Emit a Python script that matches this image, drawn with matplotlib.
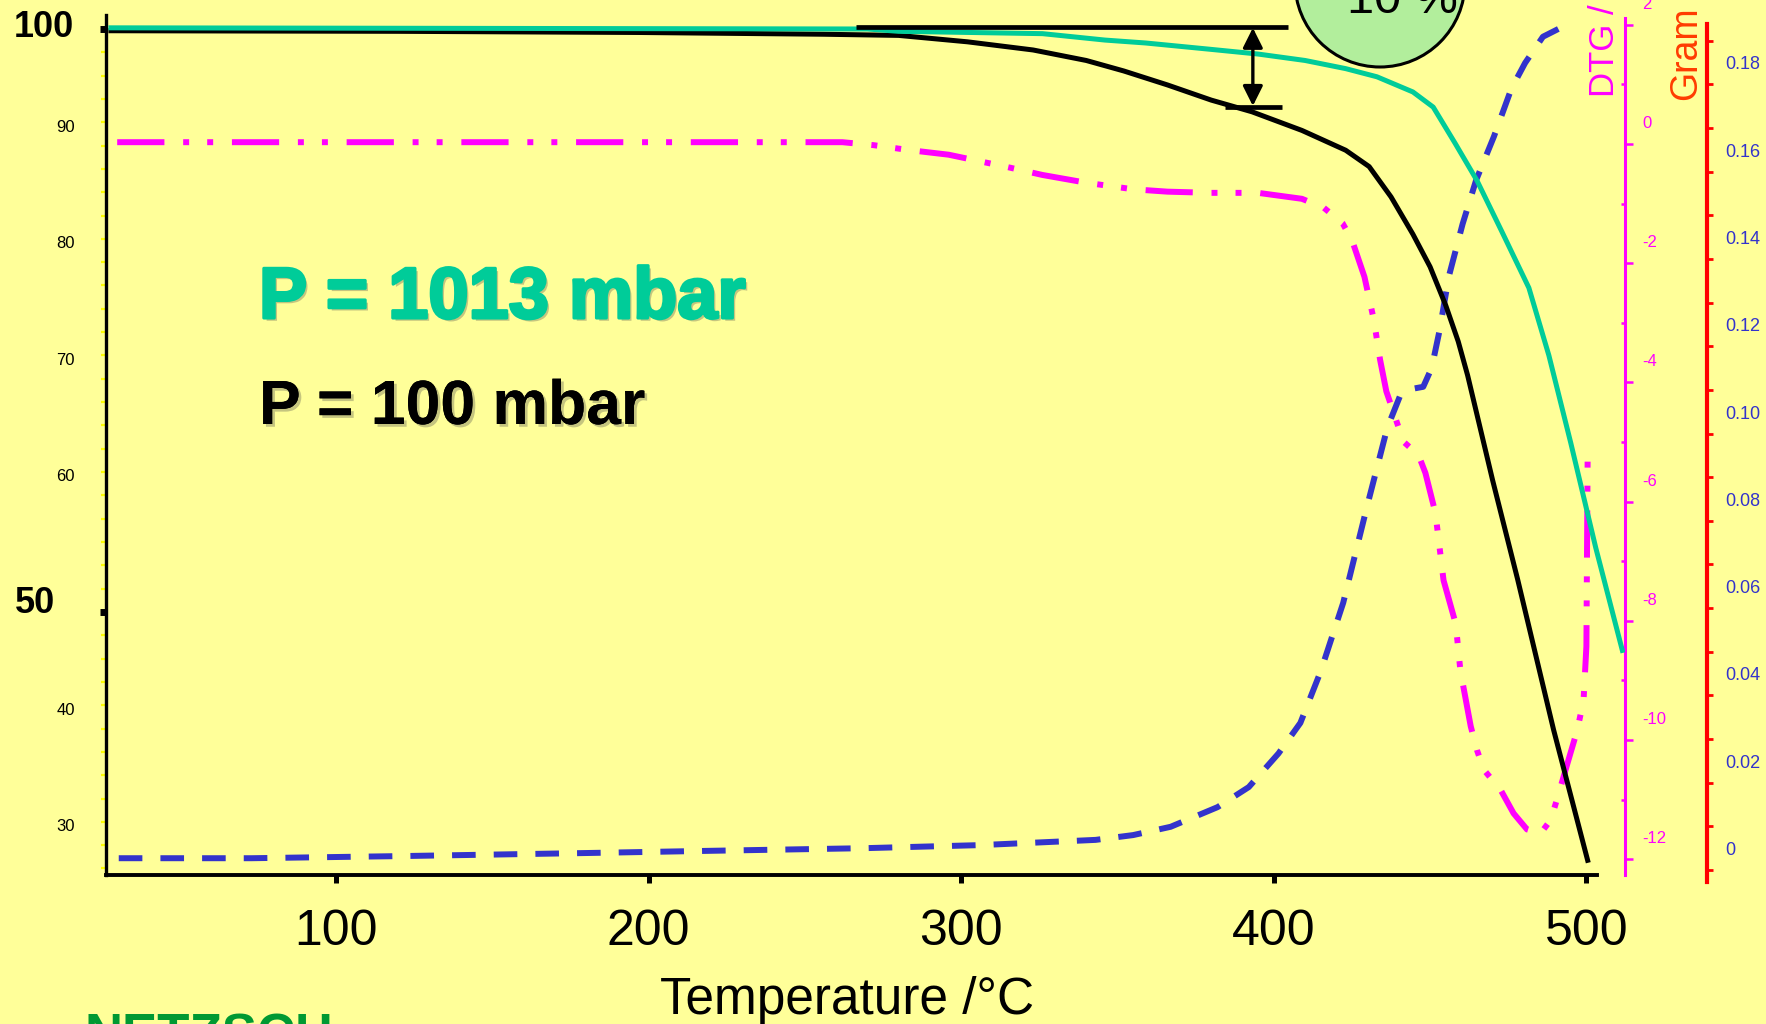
import numpy as np
import matplotlib
matplotlib.use("Agg")
import matplotlib.pyplot as plt
import matplotlib.patheffects as pe
from matplotlib.patches import Ellipse
from matplotlib.ticker import FixedLocator, NullFormatter

plt.rcParams['font.family'] = ['Liberation Sans', 'DejaVu Sans']
plt.rcParams['lines.scale_dashes'] = False

BG = '#ffff99'
TEAL = '#00cc99'
MAGENTA = '#ff00ff'
BLUE = '#3333cc'
RED = '#ff0000'

### Curves

# TG, 1013 mbar (%)
t_1013 = [28, 270, 280, 326, 346, 359, 380, 395, 410, 423, 433, 444.5, 451, 458,
          465, 473, 481.6, 488, 495, 503, 511.5]
tg_1013 = [100.1, 100.0, 99.8, 99.6, 99.05, 98.8, 98.25, 97.85, 97.3, 96.6, 95.9,
           94.6, 93.3, 90.2, 87.0, 82.6, 77.8, 72.0, 64.5, 55.5, 46.7]

# TG, 100 mbar (%)
t_100 = [28, 120, 197, 256, 280, 302, 323, 340, 352, 366, 380, 393, 409, 423,
         430.5, 437.5, 444.5, 450, 455, 459, 462, 470, 478, 489.5, 500.4]
tg_100 = [99.85, 99.8, 99.7, 99.55, 99.45, 98.9, 98.2, 97.3, 96.4, 95.2, 93.9,
          92.9, 91.3, 89.6, 88.2, 85.6, 82.4, 79.6, 76.3, 73.2, 70.3, 61.3, 52.8,
          39.9, 28.7]

# DTG, 100 mbar (%/min)
t_dtg = [30, 262, 272, 283, 296, 315, 326, 340, 355, 366, 380, 395, 409, 416, 422,
         425, 429, 432, 434, 436, 439.5, 441.6, 446.3, 448.5, 451.7, 454.3, 458.2,
         459.7, 463, 465, 467.2, 472.6, 476.7, 481, 485.3, 488.6, 490.8, 493.9,
         497.1, 499.1, 500.0, 500.4]
dtg_100 = [0.03, 0.03, -0.02, -0.10, -0.18, -0.39, -0.52, -0.65, -0.76, -0.80,
           -0.82, -0.82, -0.92, -1.07, -1.33, -1.61, -2.23, -2.95, -3.62, -4.15,
           -4.69, -5.0, -5.22, -5.52, -6.19, -7.32, -8.05, -8.84, -9.77, -10.17,
           -10.5, -10.84, -11.23, -11.5, -11.57, -11.34, -10.96, -10.4, -9.83,
           -9.33, -8.43, -5.26]

# evolved gas, gram scale
t_gram = [30.5, 73, 122, 181, 220, 269, 306, 343, 355, 367, 382, 392, 401.5,
          408.5, 415, 422.2, 429.9, 436.3, 440.6, 444, 447.8, 450.5, 453, 456,
          460.4, 464.7, 470.4, 476, 480.4, 486.1, 493]
gram = [0.0027, 0.0027, 0.0032, 0.0039, 0.0044, 0.0050, 0.0057, 0.0069, 0.0080,
        0.0099, 0.0144, 0.0190, 0.0267, 0.0337, 0.0455, 0.0612, 0.0835, 0.1013,
        0.1090, 0.1102, 0.1107, 0.1150, 0.1235, 0.1360, 0.1480, 0.1580, 0.1680,
        0.1790, 0.1849, 0.1909, 0.1934]

### Axis labels / ticks
x_ticks = [100, 200, 300, 400, 500]
pct_bold = [100, 50]
pct_small = [90, 80, 70, 60, 40, 30]
dtg_ticks = [2, 0, -2, -4, -6, -8, -10, -12]
gram_ticks = [0, 0.02, 0.04, 0.06, 0.08, 0.10, 0.12, 0.14, 0.16, 0.18]

# 10 % step marker
step_hi, step_lo = 100.2, 93.3
step_t = 393.3


fig = plt.figure(figsize=(17.66, 10.24), dpi=100, facecolor=BG)
ax = fig.add_axes([106 / 1766, 149 / 1024, 1519 / 1766, 860 / 1024])
ax_d = ax.twinx()
ax_g = ax.twinx()

ax_g.set_zorder(1)
ax_d.set_zorder(2)
ax.set_zorder(3)
for a in (ax, ax_d, ax_g):
    a.patch.set_visible(False)

ax.set_xlim(26.42, 512.35)
ax.set_ylim(27.44, 101.2)
ax_d.set_ylim(-12.265, 2.164)
ax_g.set_ylim(-0.001145, 0.19588)

# main (%) axis
ax.spines['top'].set_visible(False)
ax.spines['right'].set_visible(False)
ax.spines['left'].set_linewidth(2.4)
ax.spines['bottom'].set_linewidth(2.8)
ax.spines['bottom'].set_bounds(26.42, 503.4)
ax.set_xticks(x_ticks)
ax.tick_params(axis='x', direction='out', length=5.5, width=3.6, labelsize=36,
               pad=19, colors='black')
ax.set_yticks(pct_bold)
ax.yaxis.set_minor_locator(FixedLocator([v for v in range(28, 100, 2) if v != 50]))
ax.tick_params(axis='y', which='major', direction='out', length=4.5, width=5,
               labelleft=False)
ax.tick_params(axis='y', which='minor', direction='out', length=3.5, width=1.6,
               color='#ffff00')
ax.yaxis.set_minor_formatter(NullFormatter())

ax.set_xlabel('Temperature /°C', fontsize=37)
ax.xaxis.set_label_coords((847 - 106) / 1519, -(976 - 875) / 860)

# DTG axis
for s in ('left', 'top', 'bottom'):
    ax_d.spines[s].set_visible(False)
ax_d.spines['right'].set_color(MAGENTA)
ax_d.spines['right'].set_linewidth(2.2)
ax_d.spines['right'].set_bounds(-12.265, 2.11)
ax_d.set_yticks(dtg_ticks)
ax_d.yaxis.set_minor_locator(FixedLocator(list(range(-11, 2, 2))))
ax_d.tick_params(axis='y', which='major', direction='out', length=5.5, width=1.8,
                 color=MAGENTA, labelright=False)
ax_d.tick_params(axis='y', which='minor', direction='in', length=3, width=1.8,
                 color=MAGENTA)

# gram axis
for s in ('left', 'top', 'bottom'):
    ax_g.spines[s].set_visible(False)
ax_g.spines['right'].set_position(('axes', (1707 - 106) / 1519))
ax_g.spines['right'].set_color(RED)
ax_g.spines['right'].set_linewidth(3)
ax_g.spines['right'].set_bounds(-0.00275, 0.1938)
ax_g.set_yticks(np.arange(0, 0.195, 0.01))
ax_g.tick_params(axis='y', direction='out', length=4.5, width=2, color=RED,
                 labelright=False)

# curves
ax_g.plot(t_gram, gram, color=BLUE, lw=4.3, linestyle=(0, (17, 13)))
ax_d.plot(t_dtg, dtg_100, color=MAGENTA, lw=4.3,
          linestyle=(0, (34, 13.5, 4.3, 13, 4.3, 13.5)))
ax.plot(t_100, tg_100, color='black', lw=3.6, zorder=3)
ax.plot(t_1013, tg_1013, color=TEAL, lw=3.6, zorder=4)


def side_label(axis, xpos, value, text, dx, dy, **kw):
    axis.annotate(text, xy=(xpos, value), xycoords=axis.get_yaxis_transform(),
                  xytext=(dx, dy), textcoords='offset pixels', va='baseline', **kw)


side_label(ax, 0, 100, '100', -92, -8, ha='left', fontsize=26, fontweight='bold')
side_label(ax, 0, 50, '50', -91, -1, ha='left', fontsize=26, fontweight='bold')
for v in pct_small:
    side_label(ax, 0, v, str(v), -31, 14, ha='right', fontsize=12)
for v in dtg_ticks:
    side_label(ax_d, 1, v, str(v), 17, 16, ha='left', fontsize=12, color=MAGENTA)
gx = (1707 - 106) / 1519
for v in gram_ticks:
    txt = '0' if v == 0 else f'{v:.2f}'
    side_label(ax_g, gx, v, txt, 18, 15, ha='left', fontsize=13, color=BLUE)

# 10 % step marker
ax.plot([266.5, 404.6], [step_hi, step_hi], color='black', lw=3.4,
        solid_capstyle='butt', zorder=5)
ax.plot([384.3, 402.6], [step_lo, step_lo], color='black', lw=3.4,
        solid_capstyle='butt', zorder=5)
ax.annotate('', xy=(step_t, step_lo + 0.1), xytext=(step_t, step_hi - 0.1),
            arrowprops=dict(arrowstyle='<|-|>', color='black', lw=2.4,
                            mutation_scale=30, shrinkA=0, shrinkB=0), zorder=6)

# pressure legend text (heavy face + soft drop shadow)
shadow_heavy = [pe.withSimplePatchShadow(offset=(2, -2), shadow_rgbFace='#808060', alpha=0.45),
                pe.withStroke(linewidth=2.2, foreground=TEAL)]
shadow = [pe.withSimplePatchShadow(offset=(2, -2), shadow_rgbFace='#808060', alpha=0.45),
          pe.Normal()]
fig.text(259 / 1766, 1 - 318 / 1024, 'P = 1013 mbar', color=TEAL, fontsize=52,
         fontweight='bold', va='baseline', ha='left', path_effects=shadow_heavy)
fig.text(259 / 1766, 1 - 424 / 1024, 'P = 100 mbar', color='black', fontsize=45,
         fontweight='bold', va='baseline', ha='left', path_effects=shadow)

# right axis titles
fig.text(1604 / 1766, 1 - 97 / 1024, 'DTG /', color=MAGENTA, fontsize=25,
         rotation=90, ha='center', va='bottom')
fig.text(1686 / 1766, 1 - 100 / 1024, 'Gram', color='#ff3c00', fontsize=27,
         rotation=90, ha='center', va='bottom')

# mass-loss bubble
bubble = Ellipse((1380 / 1766, 1 + 18 / 1024), 170 / 1766, 170 / 1024,
                 transform=fig.transFigure, facecolor='#b2ee9c', edgecolor='black',
                 lw=2.2, zorder=10)
fig.add_artist(bubble)
fig.text(1402 / 1766, 1 - 13 / 1024, '10 %', fontsize=35, ha='center',
         va='baseline', zorder=11)

# logo
fig.text(84 / 1766, 1 - 1013 / 1024, 'NETZSCH', color='#009933', fontsize=38,
         fontweight='bold', ha='left', va='top')

fig.savefig('out.png', dpi=100, facecolor=BG)
